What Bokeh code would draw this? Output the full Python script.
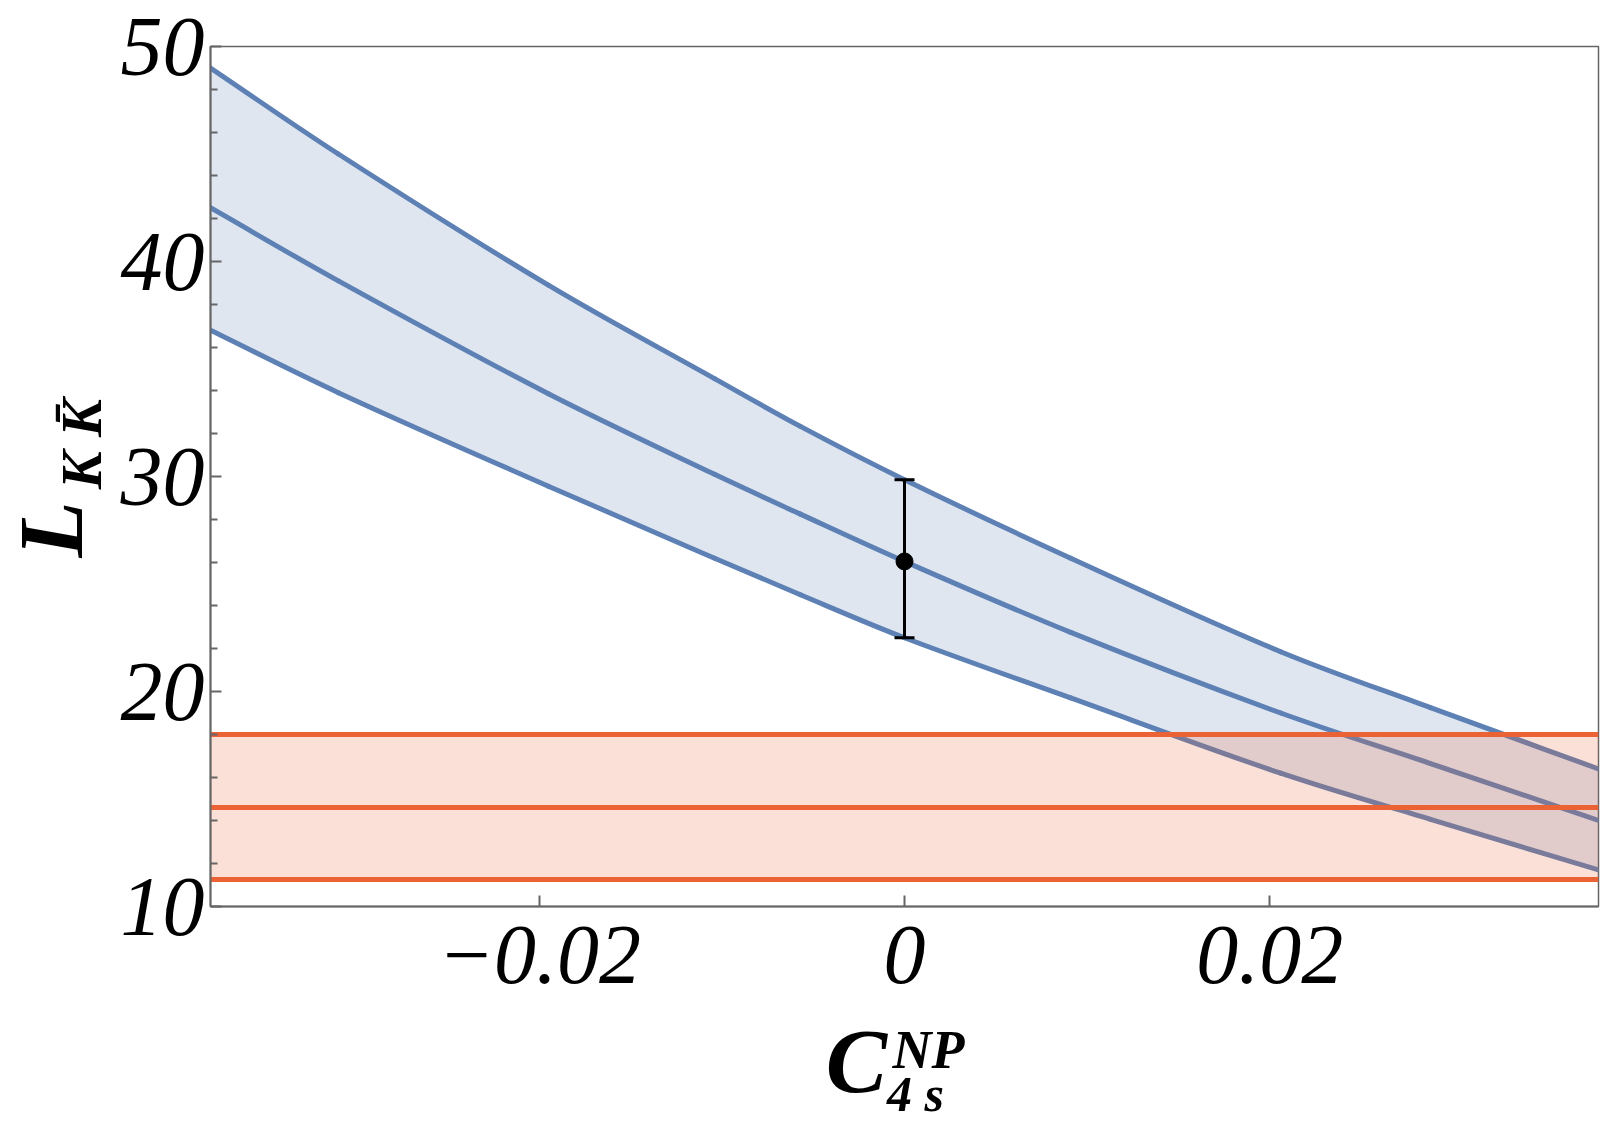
import math
from bokeh.plotting import figure
from bokeh.layouts import row, column
from bokeh.models import Range1d, FixedTicker
from bokeh.core.properties import value
from bokeh.embed import file_html
from bokeh.resources import INLINE

# ---- data ----
x_vals = [-0.038, -0.031, -0.0195, -0.0104, -0.0057, 0.0, 0.0091, 0.0206, 0.0288, 0.038]
upper = [49.0, 45.0, 38.9, 34.55, 32.33, 29.85, 26.2, 21.85, 19.25, 16.4]
middle = [42.5, 39.1, 33.85, 30.1, 28.25, 26.05, 22.75, 19.0, 16.65, 14.0]
lower = [36.8, 33.9, 29.55, 26.2, 24.5, 22.5, 19.7, 16.2, 14.05, 11.7]

exp_low, exp_mid, exp_high = 11.25, 14.6, 18.0

pt_x = [0.0]
pt_y = [26.05]
pt_hi = [29.85]
pt_lo = [22.5]

x_ticks = [-0.02, 0.0, 0.02]
x_tick_labels = {-0.02: "\u22120.02", 0.0: "0", 0.02: "0.02"}
y_ticks = [10, 20, 30, 40, 50]
y_minor = [12, 14, 16, 18, 22, 24, 26, 28, 32, 34, 36, 38, 42, 44, 46, 48]

BLUE = "#5E81B5"
RED = "#EB6235"
AXC = "#666666"
FONT = "Liberation Serif"

TOTAL_W = 1600
WL = 116                 # width of the y-title strip
MAIN_W = TOTAL_W - WL
MAIN_H = 1008
BOT_H = 113

p = figure(width=MAIN_W, height=MAIN_H,
           x_range=Range1d(-0.038, 0.038), y_range=Range1d(10, 50),
           output_backend="svg", toolbar_location=None,
           min_border_left=210 - WL, min_border_right=2,
           min_border_top=46, min_border_bottom=MAIN_H - 906)
p.grid.visible = False
p.outline_line_color = AXC
p.outline_line_width = 1.5


def smooth_segments(xs, ys):
    """cubic Hermite segments through the read points (smooth stroke)"""
    n = len(xs)
    m = []
    for i in range(n):
        if i == 0:
            m.append((ys[1] - ys[0]) / (xs[1] - xs[0]))
        elif i == n - 1:
            m.append((ys[-1] - ys[-2]) / (xs[-1] - xs[-2]))
        else:
            m.append((ys[i + 1] - ys[i - 1]) / (xs[i + 1] - xs[i - 1]))
    d = dict(x0=[], y0=[], x1=[], y1=[], cx0=[], cy0=[], cx1=[], cy1=[])
    for i in range(n - 1):
        h = xs[i + 1] - xs[i]
        d["x0"].append(xs[i]); d["y0"].append(ys[i])
        d["x1"].append(xs[i + 1]); d["y1"].append(ys[i + 1])
        d["cx0"].append(xs[i] + h / 3); d["cy0"].append(ys[i] + m[i] * h / 3)
        d["cx1"].append(xs[i + 1] - h / 3); d["cy1"].append(ys[i + 1] - m[i + 1] * h / 3)
    return d


# blue band
p.varea(x=x_vals, y1=lower, y2=upper, fill_color=BLUE, fill_alpha=0.2)
for ys in (upper, middle, lower):
    p.bezier(line_color=BLUE, line_width=5, line_cap="round",
             **smooth_segments(x_vals, ys))

# red band
p.hstrip(y0=[exp_low], y1=[exp_high], fill_color=RED, fill_alpha=0.2, line_color=None)
p.hspan(y=[exp_low, exp_mid, exp_high], line_color=RED, line_width=5)

# data point with error bar
p.segment(x0=pt_x, y0=pt_lo, x1=pt_x, y1=pt_hi, line_color="black", line_width=3)
p.scatter(pt_x, pt_hi, marker="dash", size=20, line_color="black", line_width=3)
p.scatter(pt_x, pt_lo, marker="dash", size=20, line_color="black", line_width=3)
p.scatter(pt_x, pt_y, marker="circle", size=17, fill_color="black", line_color="black")

# axes
for ax in (p.xaxis[0], p.yaxis[0]):
    ax.axis_line_color = AXC
    ax.axis_line_width = 2
    ax.major_tick_line_color = AXC
    ax.major_tick_line_width = 2
    ax.minor_tick_line_color = AXC
    ax.minor_tick_line_width = 2
    ax.major_tick_in = 11
    ax.major_tick_out = 0
    ax.minor_tick_in = 7
    ax.minor_tick_out = 0
    ax.major_label_text_font = FONT
    ax.major_label_text_font_style = "italic"
    ax.major_label_text_font_size = "84px"
    ax.major_label_text_color = "black"

p.xaxis.ticker = FixedTicker(ticks=x_ticks)
p.xaxis.major_label_overrides = x_tick_labels
p.xaxis.minor_tick_line_color = None
p.xaxis.major_label_standoff = 20
p.yaxis.ticker = FixedTicker(ticks=y_ticks, minor_ticks=y_minor)
p.yaxis.major_label_standoff = 6


def blank(w, h):
    f = figure(width=w, height=h, x_range=Range1d(0, w), y_range=Range1d(0, h),
               output_backend="svg", toolbar_location=None,
               x_axis_location=None, y_axis_location=None,
               min_border=0)
    f.grid.visible = False
    f.outline_line_color = None
    return f


txt = dict(text_font=value(FONT), text_font_style="bold italic",
           text_color="black", text_baseline="middle", text_align="center")

# y title strip: L_{K K̄}   (strip coords: x = page x, y = MAIN_H - page y)
left = blank(WL, MAIN_H)
left.text(x=[50], y=[MAIN_H - 566], text=["L"], angle=math.pi / 2,
          text_font_size="92px", **txt)
left.text(x=[81], y=[MAIN_H - 466], text=["K K\u0304"], angle=math.pi / 2,
          text_font_size="57px", **txt)

# x title strip: C_{4s}^{NP}   (strip coords: x = page x, y = total - page y)
bottom = blank(TOTAL_W, BOT_H)
Y0 = MAIN_H + BOT_H
bottom.text(x=[856], y=[Y0 - 1060], text=["C"], text_font_size="92px", **txt)
bottom.text(x=[928], y=[Y0 - 1049], text=["NP"], text_font_size="54px", **txt)
bottom.text(x=[915], y=[Y0 - 1093], text=["4 s"], text_font_size="50px", **txt)

layout = column(row(left, p, spacing=0), bottom, spacing=0)

open("out.html", "w").write(file_html(layout, INLINE))
